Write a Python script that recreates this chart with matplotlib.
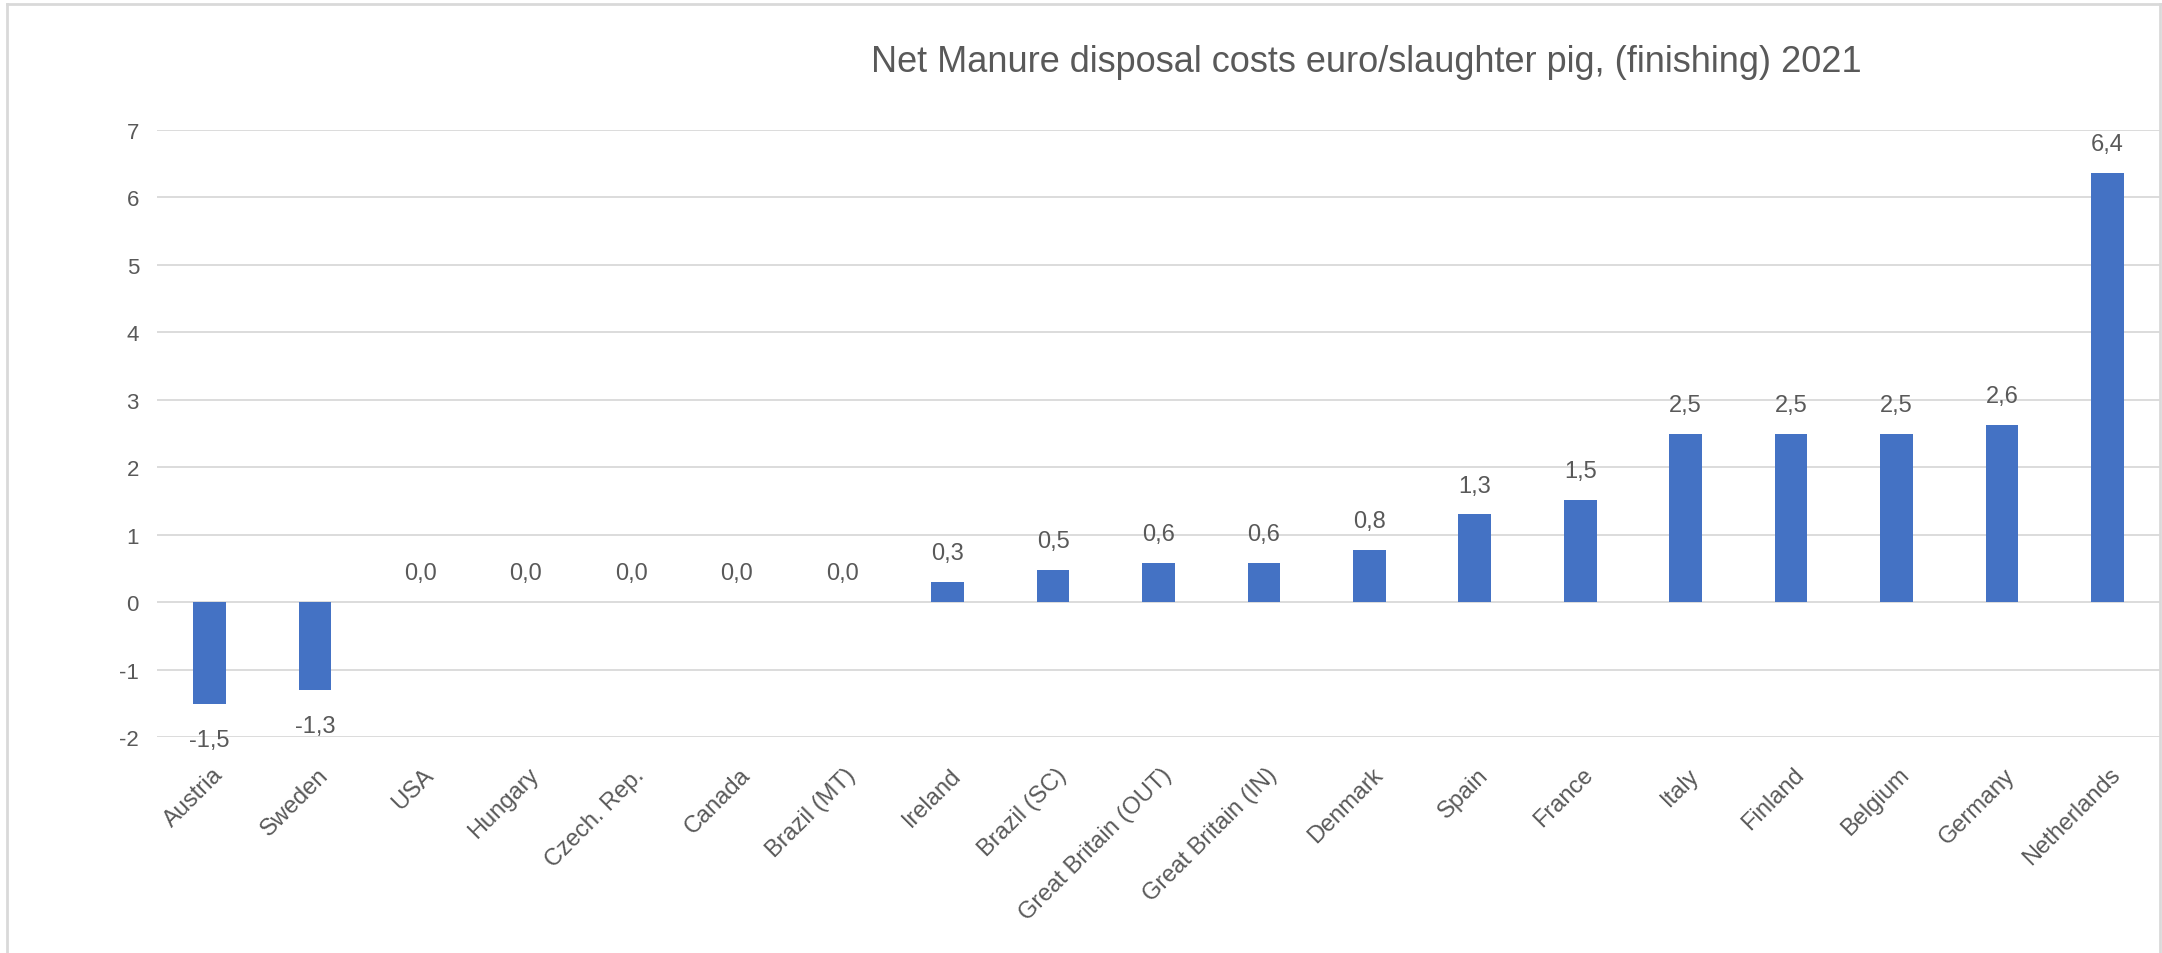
import matplotlib
matplotlib.use('Agg')
import matplotlib.pyplot as plt
from matplotlib.lines import Line2D
from matplotlib.transforms import ScaledTranslation
import numpy as np

countries = ['Austria', 'Sweden', 'USA', 'Hungary', 'Czech. Rep.', 'Canada', 'Brazil (MT)',
             'Ireland', 'Brazil (SC)', 'Great Britain (OUT)', 'Great Britain (IN)', 'Denmark',
             'Spain', 'France', 'Italy', 'Finland', 'Belgium', 'Germany', 'Netherlands']
costs = [-1.51, -1.30, 0.0, 0.0, 0.0, 0.0, 0.0,
         0.30, 0.48, 0.58, 0.58, 0.77,
         1.30, 1.52, 2.50, 2.50, 2.50, 2.62, 6.36]
yticks = [-2, -1, 0, 1, 2, 3, 4, 5, 6, 7]
title = 'Net Manure disposal costs euro/slaughter pig, (finishing) 2021'

plt.rcParams['font.family'] = ['Liberation Sans', 'DejaVu Sans']
txt_col = '#595959'
grid_col = '#d9d9d9'

W, H = 2162, 954
fig = plt.figure(figsize=(W / 100, H / 100), dpi=100)
ax = fig.add_axes([157 / W, 1 - 738 / H, (2160 - 157) / W, (738 - 131) / H])

x = np.arange(len(countries))
ax.bar(x, costs, width=0.31, color='#4472C4', zorder=3)

ax.set_xlim(-0.5, len(countries) - 0.5)
ax.set_ylim(-2, 7)
ax.set_yticks(yticks)
ax.set_yticklabels([str(t) for t in yticks], fontsize=16, color=txt_col)
ax.yaxis.grid(True, color=grid_col, linewidth=1.3, zorder=0)
ax.tick_params(axis='y', length=0, pad=13)
ax.tick_params(axis='x', length=0, pad=19)
for s in ax.spines.values():
    s.set_visible(False)

ax.set_xticks(x)
ax.set_xticklabels(countries, rotation=45, ha='right', va='top', rotation_mode='anchor',
                   fontsize=17, color=txt_col)
off = ScaledTranslation(2 / 100, 0, fig.dpi_scale_trans)
for lab in ax.get_xticklabels():
    lab.set_transform(lab.get_transform() + off)

for xi, v in zip(x, costs):
    s = f'{v:.1f}'.replace('.', ',')
    if v < 0:
        ax.annotate(s, (xi, v), xytext=(0, -18), textcoords='offset points',
                    ha='center', va='top', fontsize=17, color=txt_col)
    else:
        ax.annotate(s, (xi, v), xytext=(0, 16.5), textcoords='offset points',
                    ha='center', va='baseline', fontsize=17, color=txt_col)

fig.text(1366 / W, 1 - 72 / H, title, ha='center', va='baseline', fontsize=26, color=txt_col)

# chart area border
for xs, ys in [([7 / W, 7 / W], [0, 1 - 5 / H]), ([7 / W, 2161 / W], [1 - 5 / H, 1 - 5 / H]),
               ([2160 / W, 2160 / W], [0, 1 - 5 / H])]:
    fig.add_artist(Line2D(xs, ys, color=grid_col, linewidth=2))

fig.savefig('out.png', dpi=100)
